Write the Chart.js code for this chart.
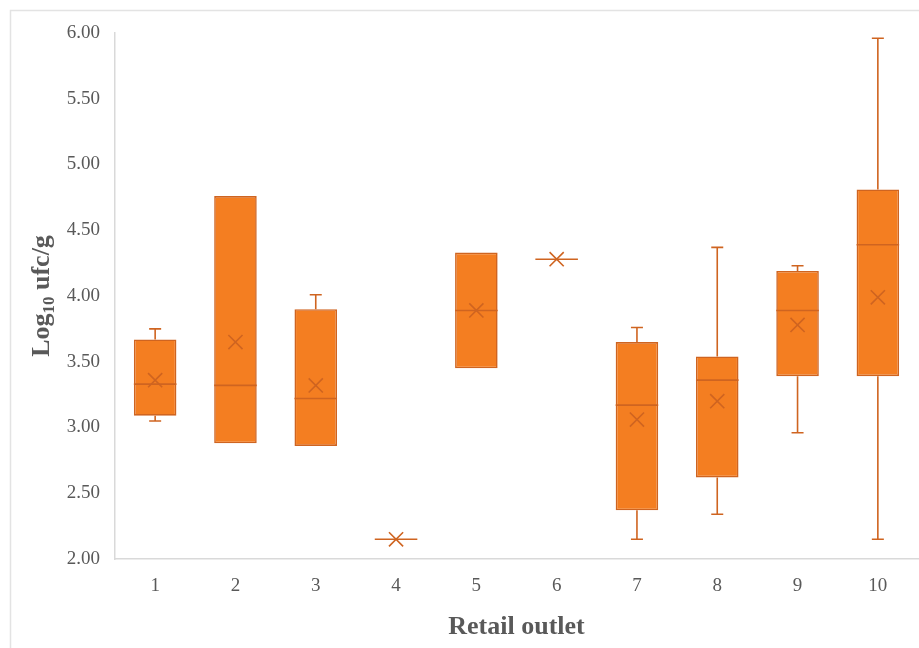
<!DOCTYPE html>
<html>
<head>
<meta charset="utf-8">
<script src="https://cdn.jsdelivr.net/npm/chart.js@4/dist/chart.umd.min.js"></script>
<style>
  html, body { margin: 0; padding: 0; background: #ffffff; }
  #wrap { width: 919px; height: 648px; position: relative; }
</style>
</head>
<body>
<div id="wrap"><canvas id="c" width="919" height="648"></canvas></div>
<script>
// Retail outlets on the x axis
const outlets = ['1', '2', '3', '4', '5', '6', '7', '8', '9', '10'];

// Five-number summaries (Log10 ufc/g) and the mean of each outlet
const minValues    = [3.05, 2.88, 2.86, 2.15, 3.45, 4.28, 2.15, 2.34, 2.96, 2.15];
const q1Values     = [3.09, 2.88, 2.86, 2.15, 3.45, 4.28, 2.37, 2.62, 3.39, 3.39];
const medianValues = [3.33, 3.32, 3.22, 2.15, 3.89, 4.28, 3.17, 3.36, 3.89, 4.39];
const q3Values     = [3.67, 4.76, 3.90, 2.15, 4.33, 4.28, 3.65, 3.54, 4.19, 4.81];
const maxValues    = [3.75, 4.76, 4.01, 2.15, 4.33, 4.28, 3.76, 4.37, 4.23, 5.96];
const meanValues   = [3.36, 3.65, 3.32, 2.15, 3.89, 4.28, 3.06, 3.20, 3.78, 3.99];

// Y axis tick range
const yMin = 2.0, yMax = 6.0, yStep = 0.5;

const FILL = '#F47E21';
const EDGE = '#CF6420';
const TEXT = '#595959';
const SERIF = '"Liberation Serif", "Times New Roman", serif';

// Frame, whiskers (behind the boxes), median lines and axis titles
const boxPlotExtras = {
  id: 'boxPlotExtras',
  beforeDraw(chart) {
    const ctx = chart.ctx;
    ctx.save();
    ctx.strokeStyle = '#E3E3E3';
    ctx.lineWidth = 1.5;
    ctx.beginPath();
    ctx.moveTo(10.5, 660);
    ctx.lineTo(10.5, 10.5);
    ctx.lineTo(930, 10.5);
    ctx.stroke();
    ctx.restore();
  },
  beforeDatasetsDraw(chart) {
    const ctx = chart.ctx;
    const x = chart.scales.x, y = chart.scales.y;
    ctx.save();
    ctx.strokeStyle = EDGE;
    ctx.lineWidth = 1.6;
    const cap = 6;
    outlets.forEach((_, i) => {
      const cx = x.getPixelForValue(i);
      const pairs = [[q3Values[i], maxValues[i]], [q1Values[i], minValues[i]]];
      pairs.forEach(([from, to]) => {
        if (Math.abs(to - from) < 1e-9) return;
        const y0 = y.getPixelForValue(from), y1 = y.getPixelForValue(to);
        ctx.beginPath();
        ctx.moveTo(cx, y0);
        ctx.lineTo(cx, y1);
        ctx.moveTo(cx - cap, y1);
        ctx.lineTo(cx + cap, y1);
        ctx.stroke();
      });
    });
    ctx.restore();
  },
  afterDatasetsDraw(chart) {
    const ctx = chart.ctx;
    const y = chart.scales.y;
    const meta = chart.getDatasetMeta(0);
    ctx.save();
    ctx.strokeStyle = EDGE;
    ctx.lineWidth = 1.6;
    meta.data.forEach((bar, i) => {
      const half = bar.width / 2;
      const py = y.getPixelForValue(medianValues[i]);
      ctx.beginPath();
      ctx.moveTo(bar.x - half, py);
      ctx.lineTo(bar.x + half, py);
      ctx.stroke();
    });
    ctx.restore();
  },
  afterDraw(chart) {
    const ctx = chart.ctx;
    const area = chart.chartArea;
    ctx.save();
    ctx.fillStyle = TEXT;
    // x axis title
    ctx.font = 'bold 26px ' + SERIF;
    ctx.textAlign = 'center';
    ctx.textBaseline = 'middle';
    ctx.fillText('Retail outlet', (area.left + area.right) / 2, 627);
    // y axis title with subscript
    const cy = (area.top + area.bottom) / 2;
    ctx.translate(40, cy);
    ctx.rotate(-Math.PI / 2);
    const big = 'bold 26px ' + SERIF, small = 'bold 17px ' + SERIF;
    ctx.font = big;
    const wLog = ctx.measureText('Log').width;
    const wRest = ctx.measureText(' ufc/g').width;
    ctx.font = small;
    const wSub = ctx.measureText('10').width;
    let px = -(wLog + wSub + wRest) / 2;
    ctx.textAlign = 'left';
    ctx.textBaseline = 'alphabetic';
    ctx.font = big;
    ctx.fillText('Log', px, 9);
    px += wLog;
    ctx.font = small;
    ctx.fillText('10', px, 14);
    px += wSub;
    ctx.font = big;
    ctx.fillText(' ufc/g', px, 9);
    ctx.restore();
  }
};

new Chart(document.getElementById('c'), {
  data: {
    labels: outlets,
    datasets: [
      {
        type: 'bar',
        label: 'Interquartile range',
        data: outlets.map((_, i) => [q1Values[i], q3Values[i]]),
        backgroundColor: FILL,
        borderColor: EDGE,
        borderWidth: 1.6,
        borderSkipped: false,
        barPercentage: 0.53,
        categoryPercentage: 1.0,
        order: 2
      },
      {
        type: 'line',
        label: 'Mean',
        data: meanValues,
        showLine: false,
        pointStyle: 'crossRot',
        pointRadius: 10,
        pointBorderColor: EDGE,
        pointBackgroundColor: EDGE,
        pointBorderWidth: 1.6,
        clip: false,
        order: 1
      }
    ]
  },
  options: {
    responsive: false,
    animation: false,
    layout: { autoPadding: false, padding: { left: 0, top: 33, right: 1, bottom: 0 } },
    plugins: {
      legend: { display: false },
      tooltip: { enabled: false }
    },
    scales: {
      x: {
        type: 'category',
        offset: true,
        grid: { display: false, drawTicks: false },
        border: { display: true, color: '#D9D9D9', width: 1.5 },
        ticks: {
          color: TEXT,
          font: { family: SERIF, size: 19 },
          padding: 16,
          maxRotation: 0
        },
        afterFit(scale) { scale.height = 89; }
      },
      y: {
        type: 'linear',
        min: yMin,
        max: yMax,
        grid: { display: false, drawTicks: false },
        border: { display: true, color: '#D9D9D9', width: 1.5 },
        ticks: {
          stepSize: yStep,
          color: TEXT,
          font: { family: SERIF, size: 19 },
          padding: 15,
          callback: v => Number(v).toFixed(2)
        },
        afterFit(scale) { scale.width = 115; }
      }
    }
  },
  plugins: [boxPlotExtras]
});
</script>
</body>
</html>
